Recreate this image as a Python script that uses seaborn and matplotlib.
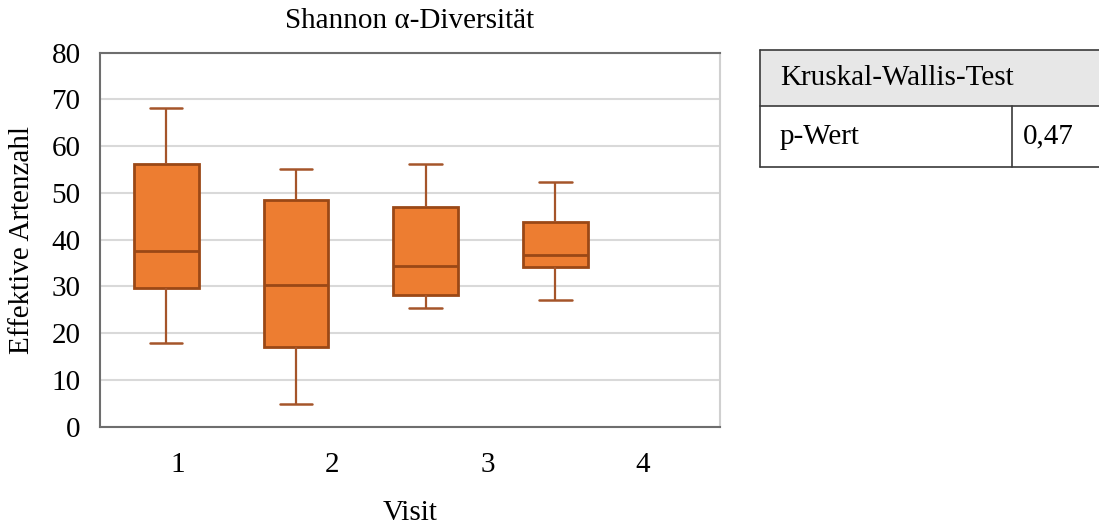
import numpy as np
import pandas as pd
import matplotlib
matplotlib.use("Agg")
import matplotlib.pyplot as plt
import seaborn as sns

# Data (five-number summaries: min, Q1, median, Q3, max)
visits = ["1", "2", "3", "4"]
visit1 = [17.9, 29.7, 37.6, 56.1, 68.1]
visit2 = [4.8, 17.1, 30.4, 48.5, 55.1]
visit3 = [25.4, 28.1, 34.4, 47.1, 56.2]
visit4 = [27.2, 34.2, 36.7, 43.7, 52.4]
yticks = [0, 10, 20, 30, 40, 50, 60, 70, 80]
table_header = "Kruskal-Wallis-Test"
table_label = "p-Wert"
table_value = "0,47"

df = pd.DataFrame({
    "Visit": np.repeat(visits, 5),
    "value": visit1 + visit2 + visit3 + visit4,
})

sns.set_theme(style="white")
plt.rcParams["font.family"] = ["Liberation Serif", "DejaVu Serif"]
plt.rcParams["text.color"] = "black"
plt.rcParams["axes.labelcolor"] = "black"
plt.rcParams["xtick.color"] = "black"
plt.rcParams["ytick.color"] = "black"

FS = 21
fig = plt.figure(figsize=(10.99, 5.26), dpi=100)
ax = fig.add_axes([100/1099, 1-426.7/526, 620/1099, 374/526])

orange = "#ED7D31"
edge = "#9A4816"
sns.boxplot(data=df, x="Visit", y="value", order=visits, ax=ax, width=0.5,
            whis=np.inf, color=orange, saturation=1, linewidth=1.6,
            boxprops=dict(facecolor=orange, edgecolor=edge, linewidth=2.0),
            whiskerprops=dict(color="#A5552A", linewidth=1.6),
            capprops=dict(color="#A5552A", linewidth=1.8),
            medianprops=dict(color=edge, linewidth=2.0),
            showfliers=False)

ax.set_xlim(-0.511, 4.270)
ax.set_ylim(0, 80)
ax.set_yticks(yticks)
ax.set_yticklabels([str(t) for t in yticks], fontsize=FS)
band = (4.270 + 0.511) / 4
ax.set_xticks([-0.511 + (i + 0.5) * band for i in range(4)])
ax.set_xticklabels(visits, fontsize=FS)
ax.tick_params(axis="x", length=0, pad=18)
ax.tick_params(axis="y", length=0, pad=14)
ax.yaxis.grid(True, color="#d9d9d9", linewidth=1.5)
ax.set_axisbelow(True)
for s in ["left", "bottom", "top"]:
    ax.spines[s].set_color("#6e6e6e")
    ax.spines[s].set_linewidth(1.5)
ax.spines["right"].set_color("#d0d0d0")
ax.spines["right"].set_linewidth(1.5)
ax.set_xlabel("")
ax.set_ylabel("Effektive Artenzahl", fontsize=FS, labelpad=12)
fig.text(410/1099, 1-513/526, "Visit", fontsize=FS, ha="center", va="center")
fig.text(410/1099, 1-21/526, "Shannon α-Diversität", fontsize=FS,
         ha="center", va="center")

# Table
tax = fig.add_axes([0, 0, 1, 1])
tax.set_xlim(0, 1099)
tax.set_ylim(526, 0)
tax.axis("off")
x0, x1, xm = 760, 1099, 1012
y0, y1, y2 = 50, 106, 167
tax.add_patch(plt.Rectangle((x0, y0), x1 - x0, y1 - y0, facecolor="#e7e7e7",
                            edgecolor="none"))
lc = "#3a3a3a"
lw = 1.2
tax.plot([x0, x1], [y0, y0], color=lc, lw=lw)
tax.plot([x0, x1], [y1, y1], color=lc, lw=lw)
tax.plot([x0, x1], [y2, y2], color=lc, lw=lw)
tax.plot([x0, x0], [y0, y2], color=lc, lw=lw)
tax.plot([xm, xm], [y1, y2], color=lc, lw=lw)
tax.text(780, (y0 + y1) / 2, table_header, fontsize=FS, va="center", ha="left")
tax.text(780, (y1 + y2) / 2, table_label, fontsize=FS, va="center", ha="left")
tax.text(1048, (y1 + y2) / 2, table_value, fontsize=FS, va="center", ha="center")

fig.savefig("out.png", dpi=100)
